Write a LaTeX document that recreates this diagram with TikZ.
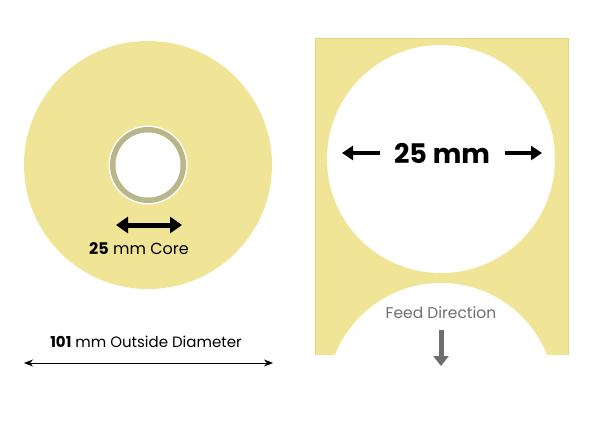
\documentclass[tikz,border=0pt]{standalone}
\usepackage{fontspec}
\setmainfont{Poppins}
\usetikzlibrary{arrows.meta}
\definecolor{labelyellow}{RGB}{240,228,150}
\definecolor{edgeyellow}{RGB}{224,212,130}
\definecolor{corering}{RGB}{186,182,140}
\definecolor{feedgray}{RGB}{110,110,110}
\tikzset{
  txt/.style={inner sep=0pt, text=black},
  bigarrow/.style={line width=4pt, -{Triangle[width=14pt,length=11pt]}},
  corearrow/.style={line width=5pt, {Triangle[width=16pt,length=12pt]}-{Triangle[width=16pt,length=12pt]}},
  thinarrow/.style={line width=0.8pt, {Stealth[width=7pt,length=9pt]}-{Stealth[width=7pt,length=9pt]}},
}
\begin{document}
\begin{tikzpicture}[x=1pt,y=-1pt]
\useasboundingbox (0,0) rectangle (600,441);
\fill[white] (0,0) rectangle (600,441);
% roll
\fill[labelyellow] (148,165) circle[radius=124];
\fill[white] (148,165) circle[radius=39.5];
\fill[corering] (148,165) circle[radius=38];
\fill[white] (148,165) circle[radius=32.5];
\coordinate (ca) at (116,225);
\coordinate (cb) at (182,225);
\draw[corearrow] (ca) -- (cb);
\node[txt, font=\fontsize{16}{16}\selectfont] (core) at (139,249) {\textbf{25} mm Core};
\node[txt, font=\fontsize{15}{15}\selectfont] (od) at (146,342) {\textbf{101} mm Outside Diameter};
\coordinate (oa) at (24,363);
\coordinate (ob) at (273,363);
\draw[thinarrow] (oa) -- (ob);
% label sheet
\begin{scope}
\clip (315,38) rectangle (568,355);
\fill[labelyellow] (315,38) rectangle (568,355);
\fill[white] (441,159) circle[radius=114];
\fill[white] (441,397) circle[radius=114];
\end{scope}
\draw[edgeyellow, line width=0.8pt] (315,355) -- (315,38) -- (568,38) -- (568,355);
\node[txt, font=\fontsize{27}{27}\selectfont\bfseries] (lab) at (442,153) {25 mm};
\coordinate (la) at (380,153);
\coordinate (lb) at (505,153);
\coordinate (lae) at (342,153);
\coordinate (lbe) at (542,153);
\draw[bigarrow] (la) -- (lae);
\draw[bigarrow] (lb) -- (lbe);
\node[txt, text=feedgray, font=\fontsize{15.5}{15.5}\selectfont] (feed) at (441,313) {Feed Direction};
\coordinate (fa) at (441,330);
\coordinate (fb) at (441,366);
\draw[feedgray, line width=5pt, -{Triangle[width=15pt,length=10pt]}] (fa) -- (fb);
\end{tikzpicture}
\end{document}
